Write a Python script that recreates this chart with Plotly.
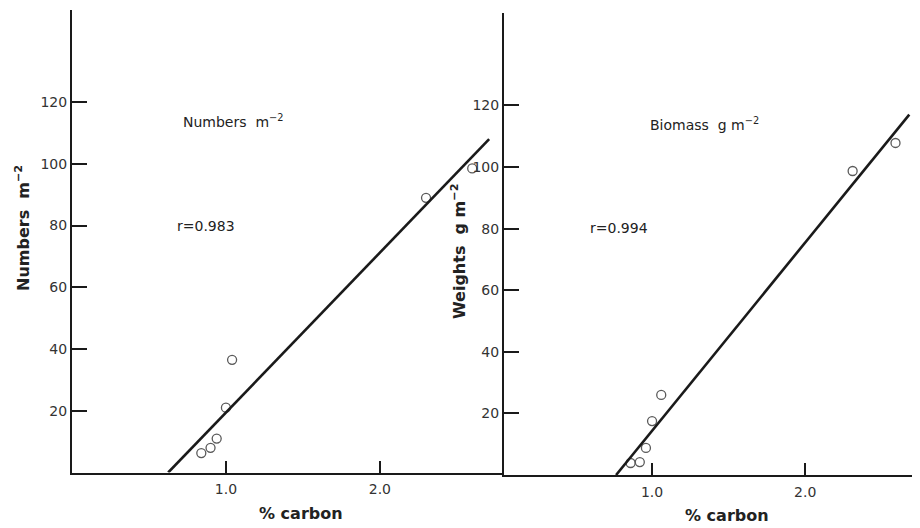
import plotly.graph_objects as go

# ---- data ----
num_carbon = [0.84, 0.90, 0.94, 1.00, 1.04, 2.30, 2.60]
num_values = [6.3, 8.0, 11.0, 21.0, 36.5, 89.0, 98.5]
num_fit_x = [0.625, 2.71]
num_fit_y = [0.0, 108.0]

bio_carbon = [0.86, 0.92, 0.96, 1.00, 1.06, 2.31, 2.59]
bio_values = [3.9, 4.2, 8.8, 17.5, 26.0, 98.7, 107.8]
bio_fit_x = [0.765, 2.68]
bio_fit_y = [0.0, 117.0]

y_ticks = [20, 40, 60, 80, 100, 120, 150]
y_ticktext = ["20", "40", "60", "80", "100", "120", ""]
x_ticks = [1.0, 2.0]
x_ticktext = ["1.0", "2.0"]

# page body has an 8px margin: figure occupies 8..920 x 8..528
OFF = 8
W, H = 912, 520
FONT = "DejaVu Sans"
INK = "#1a1a1a"
TXT = "#222222"

fig = go.Figure()

marker = dict(symbol="circle-open", size=9, color="#5a5a5a", line=dict(width=1.3, color="#5a5a5a"))

fig.add_trace(go.Scatter(x=num_carbon, y=num_values, mode="markers", marker=marker,
                         xaxis="x", yaxis="y", showlegend=False))
fig.add_trace(go.Scatter(x=num_fit_x, y=num_fit_y, mode="lines", line=dict(color=INK, width=2.6),
                         xaxis="x", yaxis="y", showlegend=False))
fig.add_trace(go.Scatter(x=bio_carbon, y=bio_values, mode="markers", marker=marker,
                         xaxis="x2", yaxis="y2", showlegend=False))
fig.add_trace(go.Scatter(x=bio_fit_x, y=bio_fit_y, mode="lines", line=dict(color=INK, width=2.6),
                         xaxis="x2", yaxis="y2", showlegend=False))

def px(xp):
    return (xp - OFF) / W

def py(yp):
    return 1 - (yp - OFF) / H

xa = dict(showgrid=False, zeroline=False, showline=True, linecolor=INK, linewidth=2,
          ticks="inside", ticklen=12, tickwidth=2, tickcolor=INK,
          tickvals=x_ticks, ticktext=x_ticktext, ticklabelstandoff=3,
          tickfont=dict(family=FONT, size=14, color="#333333"), fixedrange=True)
ya = dict(showgrid=False, zeroline=False, showline=True, linecolor=INK, linewidth=2,
          ticks="inside", ticklen=15, tickwidth=2, tickcolor=INK,
          tickvals=y_ticks, ticktext=y_ticktext, range=[0, 150],
          tickfont=dict(family=FONT, size=14, color="#333333"), fixedrange=True)

fig.update_layout(
    width=W, height=H,
    margin=dict(l=0, r=0, t=0, b=0),
    paper_bgcolor="white", plot_bgcolor="white",
    xaxis=dict(xa, domain=[px(72), px(503)], range=[0, 2.8], anchor="y"),
    yaxis=dict(ya, domain=[py(472.5), py(9.5)], anchor="x"),
    xaxis2=dict(xa, domain=[px(504), 1.0], range=[0.033, 2.75], anchor="y2"),
    yaxis2=dict(ya, domain=[py(475), py(13)], anchor="x2"),
    font=dict(family=FONT, color=TXT, size=14),
)

ann = []
# axis titles
ann.append(dict(text="<b>Numbers  m<sup>−2</sup></b>", x=px(22), y=py(228), textangle=-90,
                font=dict(size=16, family=FONT, color=TXT)))
ann.append(dict(text="<b>Weights  g m<sup>−2</sup></b>", x=px(458), y=py(252), textangle=-90,
                font=dict(size=16, family=FONT, color=TXT)))
ann.append(dict(text="<b>% carbon</b>", x=px(301), y=py(513),
                font=dict(size=16, family=FONT, color=TXT)))
ann.append(dict(text="<b>% carbon</b>", x=px(727), y=py(515),
                font=dict(size=16, family=FONT, color=TXT)))
# in-panel labels
ann.append(dict(text="Numbers  m<sup>−2</sup>", x=px(181), y=py(121), xanchor="left",
                font=dict(size=14, family=FONT, color=TXT)))
ann.append(dict(text="r=0.983", x=px(175), y=py(226), xanchor="left",
                font=dict(size=14, family=FONT, color=TXT)))
ann.append(dict(text="Biomass  g m<sup>−2</sup>", x=px(648), y=py(124), xanchor="left",
                font=dict(size=14, family=FONT, color=TXT)))
ann.append(dict(text="r=0.994", x=px(588), y=py(228), xanchor="left",
                font=dict(size=14, family=FONT, color=TXT)))

for a in ann:
    a.update(xref="paper", yref="paper", showarrow=False)
    a.setdefault("xanchor", "center")
    a.setdefault("yanchor", "middle")
fig.update_layout(annotations=ann)

fig.write_html("out.html")
